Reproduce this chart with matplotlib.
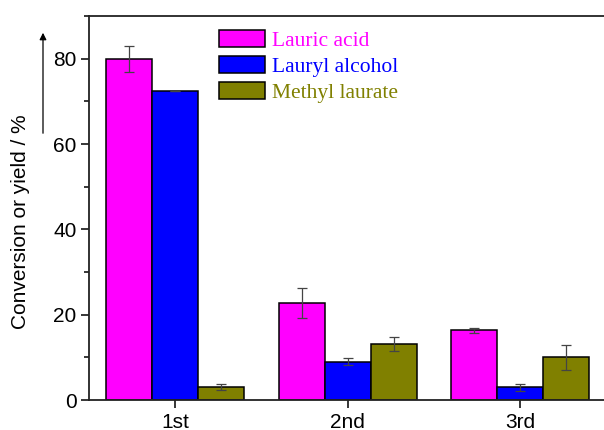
import numpy as np
import matplotlib.pyplot as plt
from matplotlib.ticker import MultipleLocator

# data
runs = ['1st', '2nd', '3rd']
lauric_acid = [79.9, 22.8, 16.3]
lauric_acid_err = [3.1, 3.5, 0.6]
lauryl_alcohol = [72.4, 9.0, 3.0]
lauryl_alcohol_err = [0.0, 0.8, 0.8]
methyl_laurate = [3.0, 13.1, 10.0]
methyl_laurate_err = [0.7, 1.7, 3.0]

series = [('Lauric acid', lauric_acid, lauric_acid_err, '#FF00FF'),
          ('Lauryl alcohol', lauryl_alcohol, lauryl_alcohol_err, '#0000FF'),
          ('Methyl laurate', methyl_laurate, methyl_laurate_err, '#808000')]

plt.rcParams['font.family'] = ['Liberation Sans', 'DejaVu Sans']

W, H = 604, 430
fig = plt.figure(figsize=(W / 100, H / 100), dpi=100)
ax = fig.add_axes([89 / W, 1 - 400 / H, (606.5 - 89) / W, (400 - 16) / H])

x = np.arange(1, len(runs) + 1)
bw = 0.267
for i, (name, vals, errs, col) in enumerate(series):
    ax.bar(x + (i - 1) * bw, vals, bw, color=col, edgecolor='black',
           linewidth=1.1, label=name, zorder=2)
    ax.errorbar(x + (i - 1) * bw, vals, yerr=errs, fmt='none', ecolor='#444444',
                elinewidth=0.9, capsize=3.5, capthick=0.9, zorder=3)

ax.set_xlim(0.5, 3.5)
ax.set_ylim(0, 90)
ax.set_xticks(x)
ax.set_xticklabels(runs)
ax.yaxis.set_major_locator(MultipleLocator(20))
ax.yaxis.set_minor_locator(MultipleLocator(10))
ax.tick_params(axis='both', which='major', direction='out', length=6, width=1.1,
               labelsize=15, colors='black', pad=3)
ax.tick_params(axis='y', which='minor', direction='out', length=3.5, width=1.1)
ax.tick_params(axis='x', which='minor', bottom=False)
for s in ax.spines.values():
    s.set_linewidth(1.3)
    s.set_color('#222222')

# y label with arrow
fig.text(21 / W, 1 - 222 / H, 'Conversion or yield / %', rotation=90,
         ha='center', va='center', fontsize=15)
fig.patches.append(plt.matplotlib.patches.FancyArrowPatch(
    (43 / W, 1 - 136 / H), (43 / W, 1 - 30 / H), transform=fig.transFigure,
    arrowstyle='-|>', mutation_scale=10, color='black', linewidth=0.9))

leg = ax.legend(loc='upper left', bbox_to_anchor=(219 / W, 1 - 30 / H),
                bbox_transform=fig.transFigure, frameon=False,
                prop={'family': 'Liberation Serif', 'size': 15.5},
                handlelength=2.15, handleheight=0.85, handletextpad=0.3,
                labelspacing=0.22, borderpad=0, borderaxespad=0)
for t, (_, _, _, col) in zip(leg.get_texts(), series):
    t.set_color(col)

fig.savefig('out.png', dpi=100)
